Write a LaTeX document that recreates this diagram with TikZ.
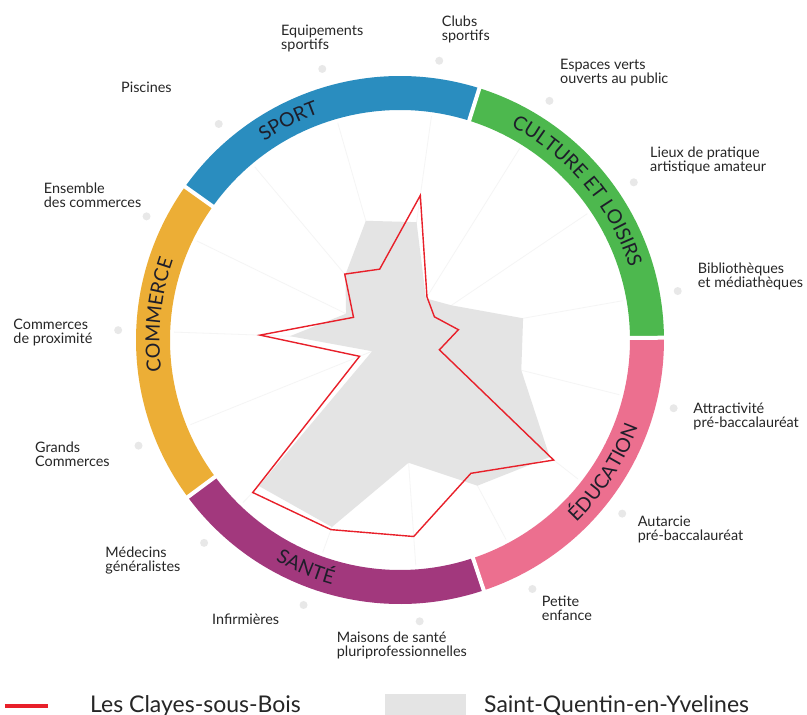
\documentclass[tikz,border=0pt]{standalone}
\usepackage{fontspec}
\setmainfont{Lato}
\usetikzlibrary{decorations.text}
\definecolor{sportc}{HTML}{2A8DBF}
\definecolor{culturec}{HTML}{4DB84E}
\definecolor{educc}{HTML}{EC6F8F}
\definecolor{santec}{HTML}{A2387D}
\definecolor{commc}{HTML}{ECAE36}
\definecolor{redline}{HTML}{E8202A}
\definecolor{sqy}{HTML}{E4E4E4}
\definecolor{labeltext}{HTML}{262626}
\definecolor{cattext}{HTML}{1E1E2A}
\definecolor{axisc}{HTML}{F5F5F5}
\definecolor{dotc}{HTML}{E8E8E8}
\newcommand{\twol}[2]{\vtop{\lineskiplimit=-100pt\relax\hbox{#1}\hbox{#2}}}
\newcommand{\catfont}{\fontsize{19.5}{19.5}\selectfont}
\tikzset{
  lbl/.style={anchor=base west, inner sep=0pt, text=labeltext, font=\fontsize{14.4}{14}\selectfont},
  legendtext/.style={anchor=base west, inner sep=0pt, text=labeltext, font=\fontsize{23}{23}\selectfont},
  cattxt/.style={decorate, decoration={text along path, text align=center, text={|\catfont\color{cattext}|#1}}},
  radar/.style={redline, line width=1.4pt, line join=miter},
}
\begin{document}
\begin{tikzpicture}[x=1pt,y=1pt]
\useasboundingbox (-400,-375) rectangle (407,340);
\fill[white] (-400,-375) rectangle (407,340);
% faint axes and end dots
\foreach \a in {10,34,...,346} {
  \draw[axisc, line width=0.8pt] (0,0) -- (\a:226);
  \fill[dotc] (\a:282) circle[radius=4];
}
% Saint-Quentin-en-Yvelines
\fill[sqy] (82:119) -- (58:49) -- (34:62) -- (10:125) -- (346:125) -- (322:190) -- (298:165) -- (274:123) -- (250:199) -- (226:203) -- (202:30) -- (178:110) -- (154:60) -- (130:85) -- (106:124) -- cycle;
% Les Clayes-sous-Bois
\draw[radar] (82:146) -- (58:50.9) -- (34:41.5) -- (10:59.3) -- (346:40.6) -- (322:195) -- (298:151) -- (274:197) -- (250:201.8) -- (226:212) -- (202:43.6) -- (178:140) -- (154:51.7) -- (130:86) -- (106:73.7) -- cycle;
% ring
\foreach \s/\e/\c in {0.5/72.5/culturec, 72.5/144.5/sportc, 144.5/216.5/commc, 216.5/288.5/santec, 288.5/360.5/educc}
  \fill[\c] (\s:264) arc[start angle=\s, end angle=\e, radius=264] -- (\e:230) arc[start angle=\e, end angle=\s, radius=230] -- cycle;
\foreach \b in {0.5,72.5,144.5,216.5,288.5}
  \draw[white, line width=4pt] (\b:225) -- (\b:269);
% category names
\path[cattxt=SPORT] (157:240.5) arc[start angle=157, end angle=77, radius=240.5];
\path[cattxt=CULTURE ET LOISIRS] (85:240.5) arc[start angle=85, end angle=-5, radius=240.5];
\path[cattxt=COMMERCE] (214:240.5) arc[start angle=214, end angle=134, radius=240.5];
\path[cattxt=SANTÉ] (207.5:253.5) arc[start angle=207.5, end angle=287.5, radius=253.5];
\path[cattxt=ÉDUCATION] (287:253.5) arc[start angle=287, end angle=367, radius=253.5];
% axis labels
\node[lbl] (equip) at (-119,304) {\twol{Equipements}{sportifs}};
\node[lbl] (clubs) at (41.7,313.3) {\twol{Clubs}{sportifs}};
\node[lbl] (espaces) at (160,270.7) {\twol{Espaces verts}{ouverts au public}};
\node[lbl] (lieux) at (250,182.3) {\twol{Lieux de pratique}{artistique amateur}};
\node[lbl] (biblio) at (297.7,66.7) {\twol{Bibliothèques}{et médiathèques}};
\node[lbl] (attract) at (293.3,-73.3) {\twol{Attractivité}{pré-baccalauréat}};
\node[lbl] (autarcie) at (237.7,-186) {\twol{Autarcie}{pré-baccalauréat}};
\node[lbl] (petite) at (141.7,-266.7) {\twol{Petite}{enfance}};
\node[lbl] (maisons) at (-63.3,-302.3) {\twol{Maisons de santé}{pluriprofessionnelles}};
\node[lbl] (infirm) at (-188,-284) {Infirmières};
\node[lbl] (medecins) at (-294.7,-217.3) {\twol{Médecins}{généralistes}};
\node[lbl] (grands) at (-365,-112.7) {\twol{Grands}{Commerces}};
\node[lbl] (proxi) at (-386.7,10.7) {\twol{Commerces}{de proximité}};
\node[lbl] (ensemble) at (-356.3,146) {\twol{Ensemble}{des commerces}};
\node[lbl] (piscines) at (-279,247) {Piscines};
% legend
\draw[redline, line width=4pt] (-395,-366) -- (-352,-366);
\node[legendtext] (leg1) at (-310,-372) {Les Clayes-sous-Bois};
\fill[sqy] (-15,-354) rectangle (66,-378);
\node[legendtext] (leg2) at (84,-372) {Saint-Quentin-en-Yvelines};
\end{tikzpicture}
\end{document}
